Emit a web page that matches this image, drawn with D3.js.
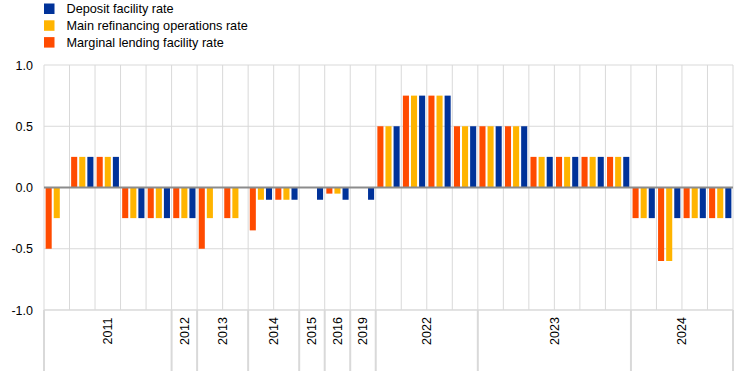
<!DOCTYPE html>
<html>
<head>
<meta charset="utf-8">
<script src="https://cdn.jsdelivr.net/npm/d3@7"></script>
<style>
  body { margin: 0; background: #fff; }
  svg { display: block; font-family: Arial, "Liberation Sans", sans-serif; }
</style>
</head>
<body>
<div id="chart"></div>
<script>
// one entry per Governing Council decision, labelled by year
const periods = [
  "2011", "2011", "2011", "2011", "2011",
  "2012",
  "2013", "2013",
  "2014", "2014",
  "2015",
  "2016",
  "2019",
  "2022", "2022", "2022", "2022",
  "2023", "2023", "2023", "2023", "2023", "2023",
  "2024", "2024", "2024", "2024"
]

// changes in percentage points
const marginalLending = [
  -0.5, 0.25, 0.25, -0.25, -0.25, -0.25, -0.5, -0.25, -0.35, -0.1, 0, -0.05, 0,
  0.5, 0.75, 0.75, 0.5, 0.5, 0.5, 0.25, 0.25, 0.25, 0.25, -0.25, -0.6, -0.25, -0.25
]
const mainRefi = [
  -0.25, 0.25, 0.25, -0.25, -0.25, -0.25, -0.25, -0.25, -0.1, -0.1, 0, -0.05, 0,
  0.5, 0.75, 0.75, 0.5, 0.5, 0.5, 0.25, 0.25, 0.25, 0.25, -0.25, -0.6, -0.25, -0.25
]
const deposit = [
  0, 0.25, 0.25, -0.25, -0.25, -0.25, 0, 0, -0.1, -0.1, -0.1, -0.1, -0.1,
  0.5, 0.75, 0.75, 0.5, 0.5, 0.5, 0.25, 0.25, 0.25, 0.25, -0.25, -0.25, -0.25, -0.25
]

const seriesNames = ["Deposit facility rate", "Main refinancing operations rate", "Marginal lending facility rate"]
const yTicks = [-1, -0.5, 0, 0.5, 1]
const yTickLabels = ["-1.0", "-0.5", "0.0", "0.5", "1.0"]

const width = 742,
  height = 371,
  plotLeft = 44,
  plotRight = 733,
  plotTop = 65,
  plotBottom = 310

const colors = {
  "Deposit facility rate": "#003299",
  "Main refinancing operations rate": "#ffb400",
  "Marginal lending facility rate": "#ff4b00"
}

// bars are drawn in this order inside each group
const barOrder = [
  { name: "Marginal lending facility rate", values: marginalLending },
  { name: "Main refinancing operations rate", values: mainRefi },
  { name: "Deposit facility rate", values: deposit }
]

const idx = d3.range(periods.length)

const x = d3.scaleBand().domain(idx).range([plotLeft, plotRight]).padding(0)
const xInner = d3.scaleBand()
  .domain(barOrder.map(d => d.name))
  .range([0, x.bandwidth()])
  .paddingInner(0.25)
  .paddingOuter(0.2)
const y = d3.scaleLinear().domain([-1, 1]).range([plotBottom, plotTop])

const svg = d3.select("#chart").append("svg")
  .attr("width", width)
  .attr("height", height)

// horizontal grid
svg.append("g")
  .selectAll("line")
  .data(yTicks.filter(d => d !== 0))
  .join("line")
  .attr("x1", plotLeft)
  .attr("x2", plotRight)
  .attr("y1", d => y(d))
  .attr("y2", d => y(d))
  .attr("stroke", "#d9d9d9")
  .attr("stroke-width", 1)

// vertical grid at every decision boundary
svg.append("g")
  .selectAll("line")
  .data(d3.range(periods.length + 1))
  .join("line")
  .attr("x1", i => i < periods.length ? x(i) : plotRight)
  .attr("x2", i => i < periods.length ? x(i) : plotRight)
  .attr("y1", plotTop)
  .attr("y2", plotBottom)
  .attr("stroke", "#d9d9d9")
  .attr("stroke-width", 1)

// y axis labels
const yAxis = svg.append("g")
  .attr("transform", `translate(${plotLeft},0)`)
  .call(d3.axisLeft(y).tickValues(yTicks).tickSize(0).tickPadding(11)
    .tickFormat((d, i) => yTickLabels[i]))
yAxis.select(".domain").remove()
yAxis.selectAll("text")
  .attr("font-family", "Arial, 'Liberation Sans', sans-serif")
  .attr("font-size", 12.5)
  .attr("fill", "#000")

// bars
const groups = svg.append("g")
  .selectAll("g")
  .data(barOrder)
  .join("g")
  .attr("fill", d => colors[d.name])

groups.selectAll("rect")
  .data(d => d.values.map((v, i) => ({ name: d.name, v, i })).filter(d => d.v !== 0))
  .join("rect")
  .attr("x", d => x(d.i) + xInner(d.name))
  .attr("width", xInner.bandwidth())
  .attr("y", d => y(Math.max(0, d.v)))
  .attr("height", d => Math.abs(y(d.v) - y(0)))

// zero line
svg.append("line")
  .attr("x1", plotLeft)
  .attr("x2", plotRight)
  .attr("y1", y(0))
  .attr("y2", y(0))
  .attr("stroke", "#8c8c8c")
  .attr("stroke-width", 2)

// year spans below the plot
const spans = []
periods.forEach((p, i) => {
  const last = spans[spans.length - 1]
  if (last && last.year === p) last.end = i
  else spans.push({ year: p, start: i, end: i })
})

const xAxis = svg.append("g")

xAxis.append("line")
  .attr("x1", plotLeft)
  .attr("x2", plotRight)
  .attr("y1", plotBottom)
  .attr("y2", plotBottom)
  .attr("stroke", "#d9d9d9")

const bounds = spans.map(s => x(s.start)).concat([plotRight])
xAxis.selectAll(".sep")
  .data(bounds)
  .join("line")
  .attr("class", "sep")
  .attr("x1", d => d)
  .attr("x2", d => d)
  .attr("y1", plotBottom)
  .attr("y2", height)
  .attr("stroke", "#d9d9d9")
  .attr("stroke-width", 2)

xAxis.selectAll("text")
  .data(spans)
  .join("text")
  .attr("transform", d => {
    const cx = (x(d.start) + x(d.end) + x.bandwidth()) / 2
    return `translate(${cx},331) rotate(-90)`
  })
  .attr("text-anchor", "middle")
  .attr("dy", "0.35em")
  .attr("font-size", 12.5)
  .attr("fill", "#000")
  .text(d => d.year)

// legend
const legend = svg.append("g")
  .selectAll("g")
  .data(seriesNames)
  .join("g")
  .attr("transform", (d, i) => `translate(44,${3.5 + i * 16.8})`)

legend.append("rect")
  .attr("width", 10.5)
  .attr("height", 10.5)
  .attr("fill", d => colors[d])

legend.append("text")
  .attr("x", 22.5)
  .attr("y", 5.3)
  .attr("dy", "0.35em")
  .attr("font-size", 12.7)
  .attr("fill", "#000")
  .text(d => d)
</script>
</body>
</html>
